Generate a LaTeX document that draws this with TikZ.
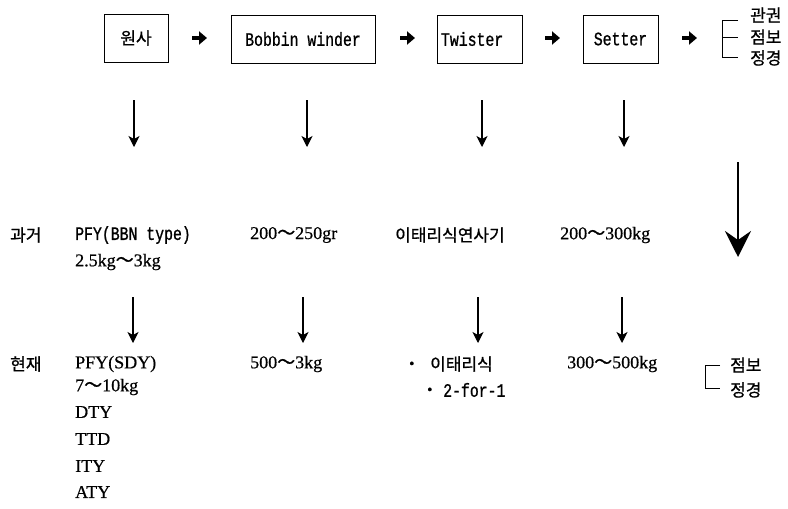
\documentclass[tikz,border=0pt]{standalone}
\usepackage{fontspec}
\setmainfont{Liberation Serif}[FakeBold=0.6]
\newfontfamily\kr{Noto Sans CJK KR}[FakeBold=0.9]
\newfontfamily\mono{Liberation Mono}[FakeStretch=0.78,FakeBold=0.9]
\usetikzlibrary{arrows.meta}
\newcommand{\wt}{{\kr ～}}
\newcommand{\dotmark}{{\fontsize{15}{15}\selectfont •}}
\tikzset{
  box/.style={draw, line width=0.8pt, minimum height=48pt, inner sep=0pt,
              font=\mono\fontsize{19}{19}\selectfont},
  txt/.style={anchor=west, inner sep=0pt, font=\fontsize{18}{18}\selectfont},
  krt/.style={anchor=west, inner sep=0pt, font=\kr\fontsize{17}{17}\selectfont},
  mt/.style={anchor=west, inner sep=0pt, font=\mono\fontsize{19}{19}\selectfont},
  flow/.style={line width=4.5pt, -{Triangle[length=8pt,width=13pt]}},
  down/.style={line width=1.1pt, -{Stealth[length=11pt,width=11pt,inset=3pt]}},
  bigdown/.style={line width=2.8pt, -{Stealth[length=26pt,width=26pt,inset=9pt]}},
  brk/.style={line width=0.9pt},
}
\begin{document}
\begin{tikzpicture}[x=1pt,y=-1pt]
\useasboundingbox (0,0) rectangle (788,509);

% process chain
\node[box, minimum width=64pt, font=\kr\fontsize{17}{17}\selectfont] (raw) at (136,38) {원사};
\node[box, minimum width=144pt] (bob) at (303,39) {Bobbin winder};
\node[box, minimum width=85pt, text width=77pt, align=left] (twi) at (479.5,39) {Twister};
\node[box, minimum width=75pt] (set) at (620.5,39) {Setter};

% block arrows between the stages
\coordinate (f1s) at (192,38); \coordinate (f1e) at (207,38);
\coordinate (f2s) at (400,38); \coordinate (f2e) at (415,38);
\coordinate (f3s) at (545,38); \coordinate (f3e) at (560,38);
\coordinate (f4s) at (682,38); \coordinate (f4e) at (697,38);
\draw[flow] (f1s) -- (f1e);
\draw[flow] (f2s) -- (f2e);
\draw[flow] (f3s) -- (f3e);
\draw[flow] (f4s) -- (f4e);

% final stages (top)
\draw[brk] (738,20) -- (722,20) -- (722,57) -- (738,57);
\draw[brk] (722,37) -- (738,37);
\node[krt] (t1) at (750,15) {관권};
\node[krt] (t2) at (750,37) {점보};
\node[krt] (t3) at (750,58) {정경};

% arrows to the "past" row
\coordinate (d1s) at (134,100); \coordinate (d1e) at (134,147);
\coordinate (d2s) at (307,100); \coordinate (d2e) at (307,147);
\coordinate (d3s) at (482,100); \coordinate (d3e) at (482,147);
\coordinate (d4s) at (624,100); \coordinate (d4e) at (624,147);
\draw[down] (d1s) -- (d1e);
\draw[down] (d2s) -- (d2e);
\draw[down] (d3s) -- (d3e);
\draw[down] (d4s) -- (d4e);

% large arrow on the right
\coordinate (bs) at (738,162); \coordinate (be) at (738,257);
\draw[bigdown] (bs) -- (be);

% past
\node[krt] (past) at (10,235) {과거};
\node[mt] (p1) at (75,235) {PFY(BBN type)};
\node[txt] (p2) at (75,262) {2.5kg\wt3kg};
\node[txt] (p3) at (250,235) {200\wt250gr};
\node[krt] (p4) at (395,235) {이태리식연사기};
\node[txt] (p5) at (560,235) {200\wt300kg};

% arrows to the "present" row
\coordinate (e1s) at (133,297); \coordinate (e1e) at (133,343);
\coordinate (e2s) at (303,297); \coordinate (e2e) at (303,343);
\coordinate (e3s) at (478,297); \coordinate (e3e) at (478,343);
\coordinate (e4s) at (622,297); \coordinate (e4e) at (622,343);
\draw[down] (e1s) -- (e1e);
\draw[down] (e2s) -- (e2e);
\draw[down] (e3s) -- (e3e);
\draw[down] (e4s) -- (e4e);

% present
\node[krt] (now) at (10,364) {현재};
\node[txt] (n1) at (75,364) {PFY(SDY)};
\node[txt] (n2) at (75,387) {7\wt10kg};
\node[txt] (n3) at (75,412) {DTY};
\node[txt] (n4) at (75,439) {TTD};
\node[txt] (n5) at (75,466) {ITY};
\node[txt] (n6) at (75,492) {ATY};
\node[txt] (n7) at (250,364) {500\wt3kg};
\node[txt] (b1) at (409,365) {\dotmark};
\node[krt] (n8) at (430,364) {이태리식};
\node[txt] (b2) at (427,391) {\dotmark};
\node[mt] (n9) at (443,390) {2-for-1};
\node[txt] (n10) at (567,364) {300\wt500kg};

% final stages (bottom)
\draw[brk] (720,365) -- (705,365) -- (705,388) -- (720,388);
\node[krt] (u1) at (730,365) {점보};
\node[krt] (u2) at (730,390) {정경};
\end{tikzpicture}
\end{document}
